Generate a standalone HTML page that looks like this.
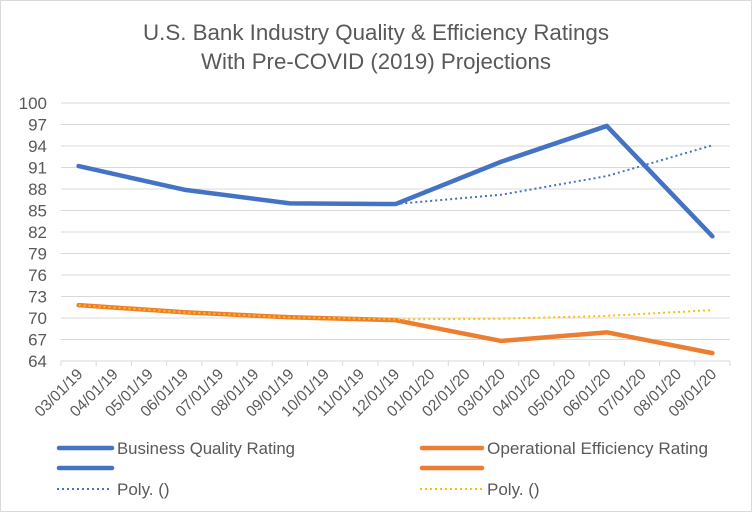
<!DOCTYPE html>
<html><head><meta charset="utf-8"><style>
html,body{margin:0;padding:0;background:#fff;}
svg{display:block;font-family:"Liberation Sans",sans-serif;}
</style></head><body>
<svg id="chart" width="752" height="512" viewBox="0 0 752 512">
<rect x="0.5" y="0.5" width="751" height="511" fill="#fff" stroke="#d9d9d9"/>
<text x="376" y="40" text-anchor="middle" font-size="22" fill="#595959" textLength="466" lengthAdjust="spacingAndGlyphs">U.S. Bank Industry Quality &amp; Efficiency Ratings</text>
<text x="376" y="69" text-anchor="middle" font-size="22" fill="#595959" textLength="350" lengthAdjust="spacingAndGlyphs">With Pre-COVID (2019) Projections</text>
<g id="grid"></g><g id="yaxis"></g><g id="xaxis"></g><g id="series"></g>
<g id="legend">
<line x1="59" y1="448" x2="112" y2="448" stroke="#4472c4" stroke-width="4.5" stroke-linecap="round"/>
<text x="117" y="454" font-size="17" fill="#595959" textLength="178" lengthAdjust="spacingAndGlyphs">Business Quality Rating</text>
<line x1="59" y1="468" x2="112" y2="468" stroke="#4472c4" stroke-width="4.5" stroke-linecap="round"/>
<line x1="57" y1="489" x2="112" y2="489" stroke="#4472c4" stroke-width="2" stroke-dasharray="2,3"/>
<text x="117" y="495" font-size="17" fill="#595959">Poly. ()</text>
<line x1="422" y1="448" x2="482" y2="448" stroke="#ed7d31" stroke-width="4.5" stroke-linecap="round"/>
<text x="487" y="454" font-size="17" fill="#595959" textLength="221" lengthAdjust="spacingAndGlyphs">Operational Efficiency Rating</text>
<line x1="422" y1="468" x2="482" y2="468" stroke="#ed7d31" stroke-width="4.5" stroke-linecap="round"/>
<line x1="420" y1="489" x2="482" y2="489" stroke="#ffc000" stroke-width="2" stroke-dasharray="2,3"/>
<text x="487" y="495" font-size="17" fill="#595959">Poly. ()</text>
</g>
</svg>
<script>
const categories=["03/01/19","04/01/19","05/01/19","06/01/19","07/01/19","08/01/19","09/01/19","10/01/19","11/01/19","12/01/19","01/01/20","02/01/20","03/01/20","04/01/20","05/01/20","06/01/20","07/01/20","08/01/20","09/01/20"];
const yTicks=[64,67,70,73,76,79,82,85,88,91,94,97,100];
const yTickLabels=["64","67","70","73","76","79","82","85","88","91","94","97","100"];
const pointCats=["03/01/19","06/01/19","09/01/19","12/01/19","03/01/20","06/01/20","09/01/20"];
const businessQuality=[91.2,87.9,86.0,85.9,91.8,96.8,81.4];
const operationalEfficiency=[71.8,70.8,70.1,69.7,66.8,68.0,65.1];
const businessTrend=[91.1,87.9,86.1,85.9,87.2,89.8,94.1];
const operationalTrend=[71.8,70.8,70.1,69.8,69.9,70.3,71.1];

const NS="http://www.w3.org/2000/svg";
const X0=61,X1=730,Y0=361,Y1=103,YMIN=64,YMAX=100;
const bw=(X1-X0)/categories.length;
const xPos=c=>X0+bw*(categories.indexOf(c)+0.5);
const yPos=v=>Y0-(v-YMIN)/(YMAX-YMIN)*(Y0-Y1);
function mk(tag,attrs,parent){const e=document.createElementNS(NS,tag);for(const k in attrs)e.setAttribute(k,attrs[k]);parent.appendChild(e);return e;}
const grid=document.getElementById('grid'),ya=document.getElementById('yaxis'),xa=document.getElementById('xaxis'),ser=document.getElementById('series');
yTicks.forEach((v,i)=>{
  const g=mk('line',{x1:X0,x2:X1,y1:yPos(v),y2:yPos(v),stroke:'#d9d9d9','stroke-width':1},grid);
  
  
  const t=mk('text',{x:47,y:yPos(v)+6,'text-anchor':'end','font-size':17,fill:'#595959'},ya);
  t.textContent=yTickLabels[i];
  
  
});
for(let i=0;i<=categories.length;i++){
  const x=X0+bw*i;
  const tk=mk('line',{x1:x,x2:x,y1:Y0,y2:Y0+5,stroke:'#d9d9d9'},xa);
  
  
}
categories.forEach(c=>{
  const x=xPos(c)+5,y=Y0+14;
  const t=mk('text',{x:x,y:y,'text-anchor':'end','font-size':15.5,fill:'#595959',transform:`rotate(-45 ${x} ${y})`},xa);
  t.textContent=c;
  
  
});
function line(vals,color,w,dash,name){
  const pts=pointCats.map((c,i)=>xPos(c)+','+yPos(vals[i])).join(' ');
  const a={points:pts,fill:'none',stroke:color,'stroke-width':w,'stroke-linejoin':'round','stroke-linecap':'round'};
  if(dash){a['stroke-dasharray']=dash;a['stroke-linecap']='butt';}
  const p=mk('polyline',a,ser);
  
  
}
line(businessQuality,'#4472c4',4.5,null,'business-quality-line');
line(operationalEfficiency,'#ed7d31',4.5,null,'operational-efficiency-line');
line(businessTrend,'#4472c4',2,'2,3','business-trend-line');
line(operationalTrend,'#ffc000',2,'2,3','operational-trend-line');
</script>
</body></html>
